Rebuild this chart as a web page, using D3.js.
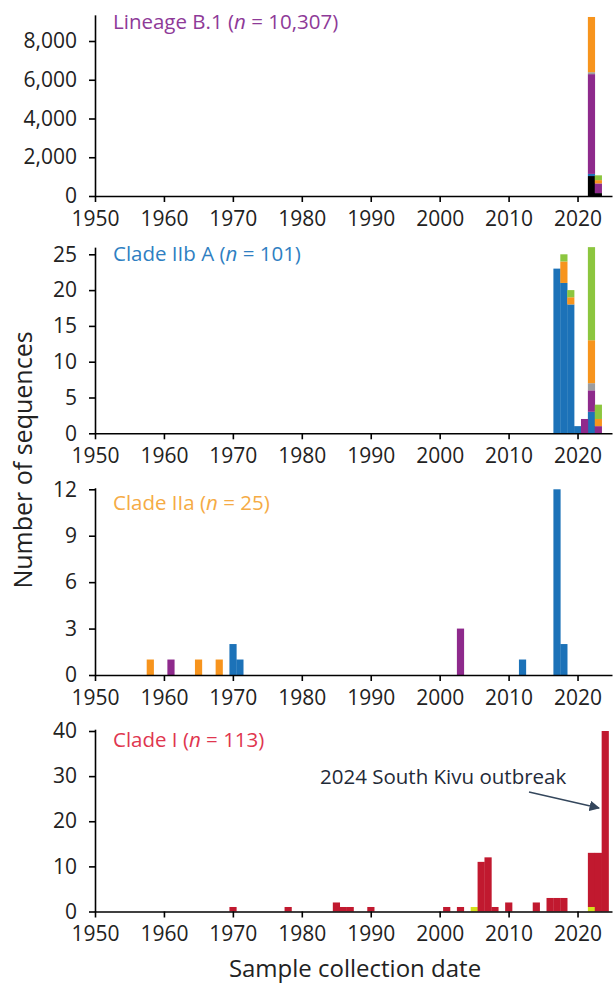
<!DOCTYPE html>
<html><head><meta charset="utf-8">
<script src="https://cdn.jsdelivr.net/npm/d3@7"></script>
<style>
body{margin:0;background:#fff}
text{font-family:"Open Sans", "Noto Sans", sans-serif}
</style>
</head><body>
<svg id="chart" width="615" height="986"></svg>
<script>
// ---------- data ----------
const xTicks = [1950,1960,1970,1980,1990,2000,2010,2020];

// Lineage B.1
const b1Years  = [2022, 2023];
const b1Black  = [1030, 150];
const b1Blue   = [110, 0];
const b1Purple = [5150, 500];
const b1Gray   = [100, 0];
const b1Orange = [2850, 170];
const b1Green  = [0, 247];
const b1Ticks  = [0, 2000, 4000, 6000, 8000];

// Clade IIb A
const iibYears  = [2017, 2018, 2019, 2020, 2021, 2022, 2023];
const iibBlue   = [23, 21, 18, 1, 0, 3, 0];
const iibPurple = [0, 0, 0, 0, 2, 3, 1];
const iibGray   = [0, 0, 0, 0, 0, 1, 0];
const iibOrange = [0, 3, 1, 0, 0, 6, 1];
const iibGreen  = [0, 1, 1, 0, 0, 13, 2];
const iibTicks  = [0, 5, 10, 15, 20, 25];

// Clade IIa
const iiaYears  = [1958, 1961, 1965, 1968, 1970, 1971, 2003, 2012, 2017, 2018];
const iiaOrange = [1, 0, 1, 1, 0, 0, 0, 0, 0, 0];
const iiaPurple = [0, 1, 0, 0, 0, 0, 3, 0, 0, 0];
const iiaBlue   = [0, 0, 0, 0, 2, 1, 0, 1, 12, 2];
const iiaTicks  = [0, 3, 6, 9, 12];

// Clade I
const cIYears  = [1970,1978,1985,1986,1987,1990,2001,2003,2005,2006,2007,2008,2010,2014,2016,2017,2018,2022,2023,2024];
const cIYellow = [0,0,0,0,0,0,0,0,1,0,0,0,0,0,0,0,0,1,0,0];
const cIRed    = [1,1,2,1,1,1,1,1,0,11,12,1,2,2,3,3,3,12,13,40];
const cITicks  = [0, 10, 20, 30, 40];

// ---------- styles ----------
const COL = {
  black:"#000000", blue:"#1c72b8", purple:"#8e2a8c", gray:"#9d9d9f",
  orange:"#f7941d", green:"#8cc63f", red:"#c1192f", yellow:"#d4e01c"
};

const panels = [
  {name:"Lineage B.1", n:"10,307", tcol:"#8e3a98", years:b1Years,
   series:[["black",b1Black],["blue",b1Blue],["purple",b1Purple],["gray",b1Gray],["orange",b1Orange],["green",b1Green]],
   ticks:b1Ticks, top:9350, y0:196, yTickVal:8000, yTickPos:41, titleY:22, fmt:d3.format(",")},
  {name:"Clade IIb A", n:"101", tcol:"#2f7fc2", years:iibYears,
   series:[["blue",iibBlue],["purple",iibPurple],["gray",iibGray],["orange",iibOrange],["green",iibGreen]],
   ticks:iibTicks, top:26, y0:433.3, yTickVal:25, yTickPos:254.3, titleY:254, fmt:d3.format("d")},
  {name:"Clade IIa", n:"25", tcol:"#f5ab45", years:iiaYears,
   series:[["orange",iiaOrange],["purple",iiaPurple],["blue",iiaBlue]],
   ticks:iiaTicks, top:12.1, y0:675, yTickVal:12, yTickPos:489.3, titleY:503, fmt:d3.format("d")},
  {name:"Clade I", n:"113", tcol:"#e0364f", years:cIYears,
   series:[["yellow",cIYellow],["red",cIRed]],
   ticks:cITicks, top:40.4, y0:911.5, yTickVal:40, yTickPos:731, titleY:740, fmt:d3.format("d")}
];

const svg = d3.select("#chart");
const x = d3.scaleLinear().domain([1950, 2025]).range([95, 612]);

panels.forEach((p) => {
  const y = d3.scaleLinear().domain([0, p.yTickVal]).range([p.y0, p.yTickPos]);
  const yTop = y(p.top);
  const yAx = d3.scaleLinear().domain([0, p.top]).range([p.y0, yTop]);

  const keys = p.series.map(s => s[0]);
  const rows = p.years.map((yr, i) => {
    const r = {year: yr};
    p.series.forEach(([k, arr]) => r[k] = arr[i]);
    return r;
  });
  const stacked = d3.stack().keys(keys)(rows);

  const g = svg.append("g");
  stacked.forEach(layer => {
    g.selectAll(null).data(layer.filter(d => d[1] > d[0])).enter().append("rect")
      .attr("x", d => x(d.data.year - 0.5))
      .attr("width", d => x(d.data.year + 0.5) - x(d.data.year - 0.5) + 0.3)
      .attr("y", d => y(d[1]))
      .attr("height", d => y(d[0]) - y(d[1]))
      .attr("fill", COL[layer.key]);
  });

  const ya = svg.append("g").attr("transform", "translate(95,0)")
    .call(d3.axisLeft(yAx).tickValues(p.ticks).tickFormat(p.fmt).tickSize(6).tickSizeOuter(0).tickPadding(12));
  const xa = svg.append("g").attr("transform", `translate(0,${p.y0})`)
    .call(d3.axisBottom(x).tickValues(xTicks).tickFormat(d3.format("d")).tickSize(6).tickSizeOuter(0).tickPadding(9));
  [ya, xa].forEach(a => {
    a.select(".domain").attr("stroke", "#000").attr("stroke-width", 1.6);
    a.selectAll(".tick line").attr("stroke", "#000").attr("stroke-width", 1.6);
    a.selectAll(".tick text").attr("font-size", 21).attr("fill", "#222")
      .style("font-family", "'Open Sans', sans-serif");
  });

  const t = svg.append("text").attr("x", 113).attr("y", p.titleY)
    .attr("dy", "0.35em").attr("font-size", 20.5).attr("fill", p.tcol);
  t.append("tspan").text(p.name + " (");
  t.append("tspan").attr("font-style", "italic").text("n");
  t.append("tspan").text(" = " + p.n + ")");
});

// axis titles
svg.append("text").attr("transform", "translate(23,460) rotate(-90)")
  .attr("text-anchor", "middle").attr("dy", "0.35em").attr("font-size", 25).attr("fill", "#222")
  .text("Number of sequences");
svg.append("text").attr("x", 355).attr("y", 969).attr("dy", "0.35em")
  .attr("text-anchor", "middle").attr("font-size", 24).attr("fill", "#222")
  .text("Sample collection date");

// annotation
svg.append("defs").append("marker").attr("id", "arr")
  .attr("viewBox", "0 0 10 10").attr("refX", 9).attr("refY", 5)
  .attr("markerWidth", 7).attr("markerHeight", 7).attr("orient", "auto")
  .append("path").attr("d", "M0,0 L10,5 L0,10 Z").attr("fill", "#34465c");
svg.append("text").attr("x", 320).attr("y", 777).attr("dy", "0.35em").attr("font-size", 20.5).attr("fill", "#1f2a38")
  .text("2024 South Kivu outbreak");
svg.append("line").attr("x1", 529).attr("y1", 792).attr("x2", 599).attr("y2", 808)
  .attr("stroke", "#34465c").attr("stroke-width", 1.5).attr("marker-end", "url(#arr)");
</script>
</body></html>
